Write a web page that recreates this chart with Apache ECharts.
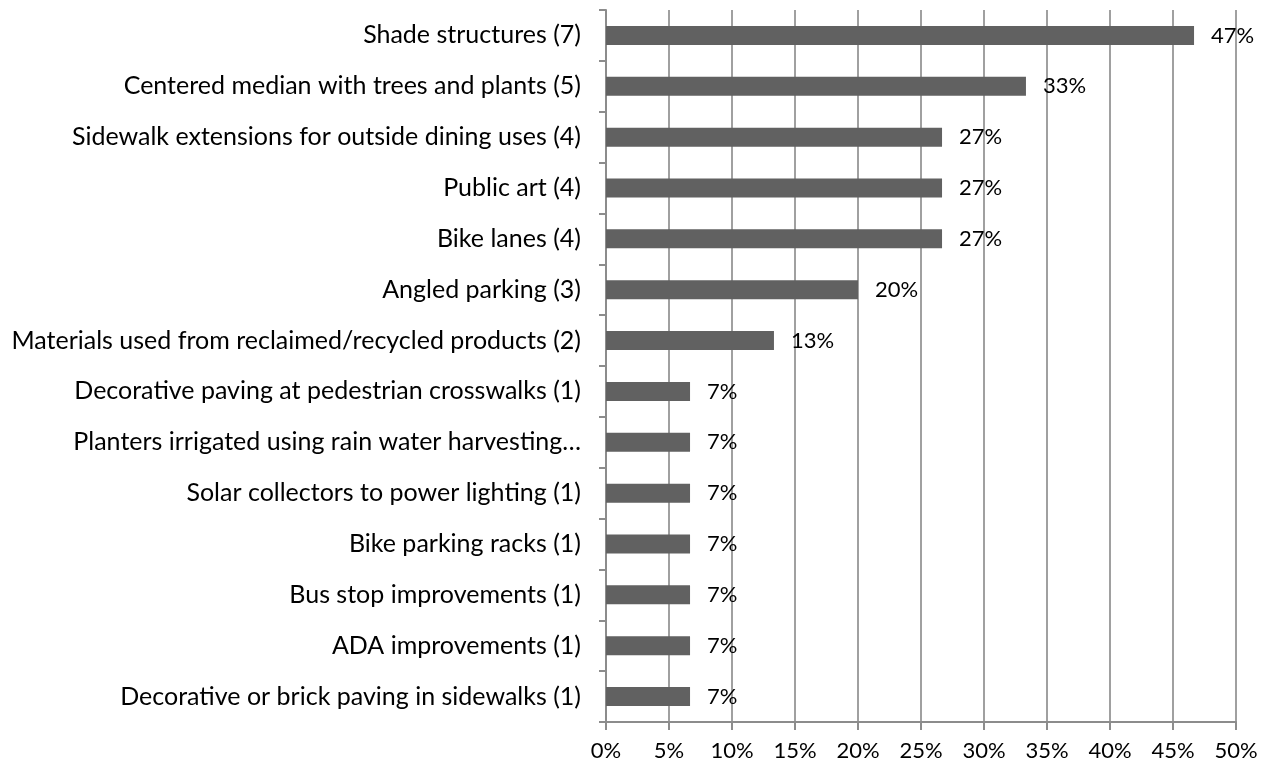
<!DOCTYPE html>
<html><head><meta charset="utf-8">
<script src="https://cdn.jsdelivr.net/npm/echarts@6/dist/echarts.min.js"></script>
<style>html,body{margin:0;padding:0;background:#fff}#c{width:1276px;height:768px}</style>
</head><body><div id="c"></div>
<script>
const categories = [
  "Shade structures (7)",
  "Centered median with trees and plants (5)",
  "Sidewalk extensions for outside dining uses (4)",
  "Public art (4)",
  "Bike lanes (4)",
  "Angled parking (3)",
  "Materials used from reclaimed/recycled products (2)",
  "Decorative paving at pedestrian crosswalks (1)",
  "Planters irrigated using rain water harvesting…",
  "Solar collectors to power lighting (1)",
  "Bike parking racks (1)",
  "Bus stop improvements (1)",
  "ADA improvements (1)",
  "Decorative or brick paving in sidewalks (1)"
];
const values = [46.67, 33.33, 26.67, 26.67, 26.67, 20, 13.33, 6.67, 6.67, 6.67, 6.67, 6.67, 6.67, 6.67];
const xTicks = { min: 0, max: 50, interval: 5 };

const FONT = "Lato";
const chart = echarts.init(document.getElementById('c'), null, {renderer: 'canvas'});
chart.setOption({
  animation: false,
  grid: { left: 606, right: 40, top: 10, bottom: 46, containLabel: false },
  xAxis: {
    type: 'value', min: xTicks.min, max: xTicks.max, interval: xTicks.interval,
    axisLine: { show: true, lineStyle: { color: '#8c8c8c', width: 2 } },
    axisTick: { show: true, length: 8, lineStyle: { color: '#8c8c8c', width: 2 } },
    splitLine: { show: true, lineStyle: { color: '#a0a0a0', width: 2 } },
    axisLabel: { formatter: '{value}%', color: '#000', fontFamily: FONT, fontSize: 22, margin: 18 }
  },
  yAxis: {
    type: 'category', data: categories, inverse: true,
    axisLine: { show: true, lineStyle: { color: '#8c8c8c', width: 2 } },
    axisTick: { show: true, length: 7, inside: false, lineStyle: { color: '#8c8c8c', width: 2 } },
    axisLabel: { color: '#000', fontFamily: FONT, fontSize: 25, margin: 25 }
  },
  series: [{
    type: 'bar', data: values, barWidth: 19,
    itemStyle: { color: '#616161' },
    label: {
      show: true, position: 'right', distance: 17,
      formatter: p => Math.round(p.value) + '%',
      color: '#000', fontFamily: FONT, fontSize: 22
    }
  }]
});
</script></body></html>
